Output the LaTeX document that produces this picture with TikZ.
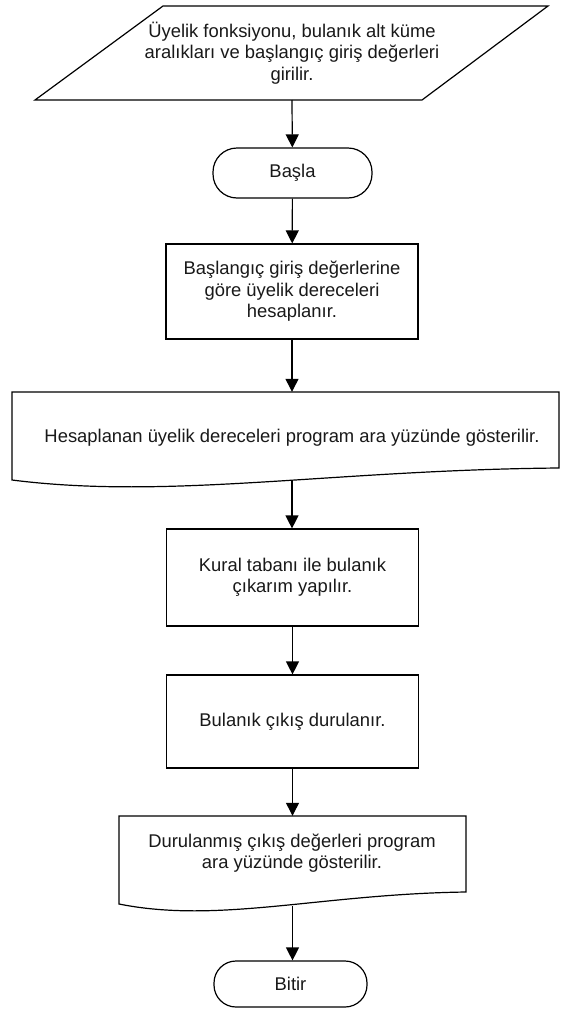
\documentclass[tikz,border=0pt]{standalone}
\usepackage{fontspec}
\setmainfont{Liberation Sans}
\usetikzlibrary{arrows.meta}
\tikzset{
  outline/.style={draw=black, line width=1.2pt, line join=miter},
  txt/.style={font=\fontsize{18.4}{21.5}\selectfont, align=center, text=black!90, inner sep=0pt},
  procbox/.style={outline, txt, minimum width=252, minimum height=95},
  termbox/.style={outline, txt, rounded corners=24},
  arr/.style={line width=1.2pt, draw=black, -{Triangle[length=13pt,width=13pt]}},
}
\begin{document}
\begin{tikzpicture}[x=1pt,y=-1pt]
\useasboundingbox (0,0) rectangle (561,1012);
\fill[white] (0,0) rectangle (561,1012);

% input parallelogram
\draw[outline] (35,100) -- (422,100) -- (548,6) -- (163,6) -- cycle;
\node[txt] (in) at (292,53) {Üyelik fonksiyonu, bulanık alt küme\\aralıkları ve başlangıç giriş değerleri\\girilir.};
\coordinate (inb) at (292,100);

% start terminal
\node[termbox, minimum width=159, minimum height=50] (start) at (292.5,173) {Başla};

% process 1
\node[procbox, minimum height=95] (b1) at (292,291.5) {Başlangıç giriş değerlerine\\göre üyelik dereceleri\\hesaplanır.};

% document 1
\node[minimum width=547, minimum height=88, inner sep=0] (d1) at (285.5,436) {};
\draw[outline] (12,480) -- (12,392) -- (559,392) -- (559,468) .. controls (330,470) and (170,500) .. (12,480) -- cycle;
\node[txt] (d1t) at (292,438) {Hesaplanan üyelik dereceleri program ara yüzünde gösterilir.};
\coordinate (d1b) at (292,480.5);

% process 2
\node[procbox, minimum height=97] (b2) at (292.5,577.5) {Kural tabanı ile bulanık\\çıkarım yapılır.};

% process 3
\node[procbox, minimum height=93] (b3) at (292.5,721.5) {Bulanık çıkış durulanır.};

% document 2
\node[minimum width=347, minimum height=88, inner sep=0] (d2) at (292.5,860) {};
\draw[outline] (119,904) -- (119,816) -- (466,816) -- (466,892) .. controls (320,894) and (219,924) .. (119,904) -- cycle;
\node[txt] (d2t) at (292,853) {Durulanmış çıkış değerleri program\\ara yüzünde gösterilir.};
\coordinate (d2b) at (292.5,905.5);

% end terminal
\node[termbox, minimum width=153, minimum height=46, rounded corners=22] (end) at (290.5,984) {Bitir};

% connectors
\draw[arr] (inb) -- (start);
\draw[arr] (start) -- (b1);
\draw[arr] (b1) -- (b1 |- d1.north);
\draw[arr] (d1b) -- (d1b |- b2.north);
\draw[arr] (b2) -- (b3);
\draw[arr] (b3) -- (b3 |- d2.north);
\draw[arr] (d2b) -- (d2b |- end.north);
\end{tikzpicture}
\end{document}
